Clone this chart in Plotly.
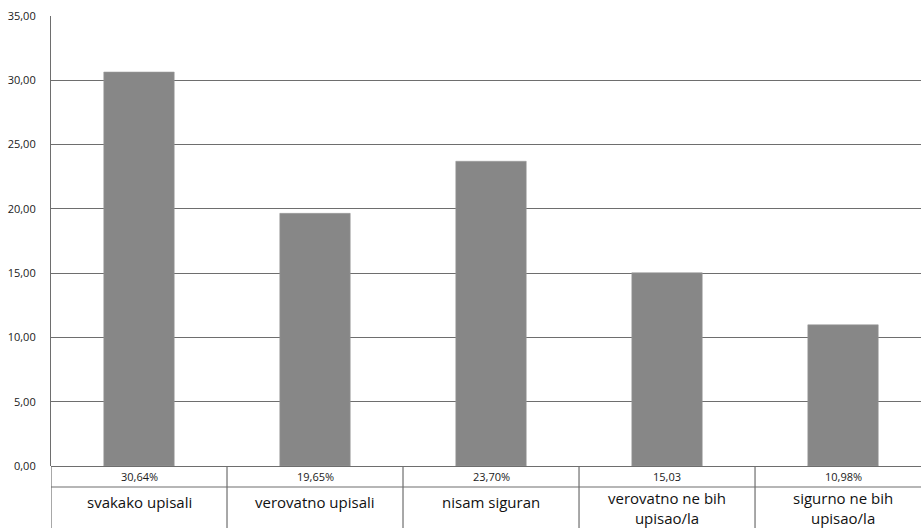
import plotly.graph_objects as go

categories = ["svakako upisali", "verovatno upisali", "nisam siguran",
              "verovatno ne bih<br>upisao/la", "sigurno ne bih<br>upisao/la"]
values = [30.64, 19.65, 23.70, 15.03, 10.98]
value_labels = ["30,64%", "19,65%", "23,70%", "15,03", "10,98%"]
y_ticks = [0, 5, 10, 15, 20, 25, 30, 35]
y_tick_labels = ["0,00", "5,00", "10,00", "15,00", "20,00", "25,00", "30,00", "35,00"]

W, H = 921, 528
M_L, M_R, M_T, M_B = 51, 0, 16, 62
plot_h = H - M_T - M_B
px = 1.0 / plot_h  # one pixel in paper units (vertical)

LINE = "#6e6e6e"
FONT = "Open Sans, DejaVu Sans, sans-serif"

x_pos = list(range(len(categories)))

fig = go.Figure()
fig.add_trace(go.Bar(
    x=x_pos, y=values, width=0.4,
    marker=dict(color="#878787", line=dict(color="#9a9a9a", width=0.6)),
    hoverinfo="skip",
))

shapes = []
annotations = []

# data table under the plot: row separator and cell borders
shapes.append(dict(type="line", xref="paper", yref="paper",
                   x0=0, x1=1, y0=-21 * px, y1=-21 * px,
                   line=dict(color=LINE, width=1.2)))
for i in range(len(categories)):
    xb = i - 0.5
    shapes.append(dict(type="line", xref="x", yref="paper",
                       x0=xb, x1=xb, y0=-M_B * px, y1=0,
                       line=dict(color=LINE, width=1.2)))

for i, (lab, cat) in enumerate(zip(value_labels, categories)):
    annotations.append(dict(x=i, y=-10.5 * px, xref="x", yref="paper",
                            text=lab, showarrow=False, yanchor="middle",
                            font=dict(size=11, color="#1a1a1a", family=FONT)))
    n_lines = cat.count("<br>") + 1
    yc = 36 if n_lines == 1 else 42
    annotations.append(dict(x=i, y=-yc * px, xref="x", yref="paper",
                            text=cat, showarrow=False, yanchor="middle",
                            align="center", borderpad=0,
                            font=dict(size=15, color="#111111", family=FONT)))

fig.update_layout(
    width=W, height=H,
    margin=dict(l=M_L, r=M_R, t=M_T, b=M_B, pad=0),
    paper_bgcolor="white", plot_bgcolor="white",
    showlegend=False,
    bargap=0.6,
    shapes=shapes,
    annotations=annotations,
    xaxis=dict(range=[-0.5, 4.443], showticklabels=False, ticks="",
               showgrid=False, zeroline=False, showline=False, fixedrange=True),
    yaxis=dict(range=[0, 35], tickvals=y_ticks, ticktext=y_tick_labels,
               showgrid=True, gridcolor=LINE, gridwidth=1.2,
               zeroline=True, zerolinecolor=LINE, zerolinewidth=1.2,
               showline=True, linecolor=LINE, linewidth=1.2,
               ticks="", ticklabelstandoff=12,
               tickfont=dict(size=11, color="#1a1a1a", family=FONT),
               fixedrange=True),
)

fig.write_html("out.html", config={"displayModeBar": False})
